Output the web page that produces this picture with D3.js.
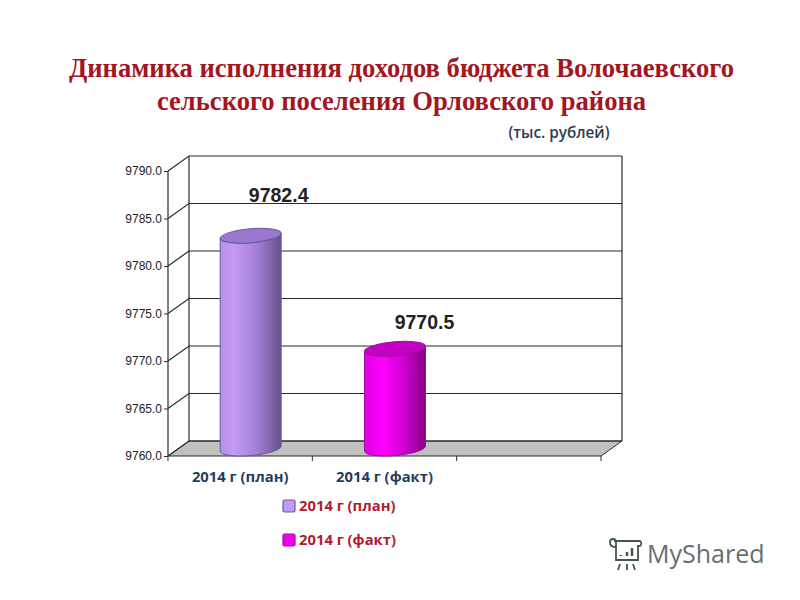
<!DOCTYPE html>
<html><head><meta charset="utf-8">
<script src="https://cdn.jsdelivr.net/npm/d3@7"></script>
<style>html,body{margin:0;padding:0;background:#fff}svg{display:block}</style></head>
<body><svg id="c" width="800" height="600"></svg>
<script>
const titleLines = ["Динамика исполнения доходов бюджета Волочаевского", "сельского поселения Орловского района"];
const unitLabel = "(тыс. рублей)";
const categories = ["2014 г (план)", "2014 г (факт)", ""];
const values = [9782.4, 9770.5];
const tickValues = [9760, 9765, 9770, 9775, 9780, 9785, 9790];
const watermark = "MyShared";

const svg = d3.select("#c");
const depthX = 21, depthY = -15;
const y = d3.scaleLinear().domain([9760, 9790]).range([456, 171]);
const x = d3.scaleBand().domain(categories).range([168, 601]);
const ink = "#2b2b2b";

const defs = svg.append("defs");
function grad(id, stops){
  const g = defs.append("linearGradient").attr("id", id);
  stops.forEach(s => g.append("stop").attr("offset", s[0]).attr("stop-color", s[1]));
}
grad("g0", [[0,"#b78fe6"],[0.22,"#c39bf5"],[0.6,"#a47fd6"],[1,"#67508f"]]);
grad("g1", [[0,"#e000e0"],[0.3,"#ff00ff"],[0.65,"#cf00cf"],[1,"#860086"]]);
const seriesFill = ["url(#g0)", "url(#g1)"];
const topFill = ["#9a78cf", "#c400c4"];
const stroke = ["#6a5a9c", "#9a109a"];
const legendFill = ["#c09cf2", "#f000f0"];

svg.append("g").selectAll("text").data(titleLines).join("text")
  .attr("x", 401.5).attr("y", (d, i) => 77 + i * 33)
  .attr("text-anchor", "middle")
  .attr("font-family", "Liberation Serif").attr("font-weight", "bold").attr("font-size", 26.6)
  .attr("fill", "#a3161f").text(d => d);

svg.append("text").attr("x", 559).attr("y", 138).attr("text-anchor", "middle")
  .attr("font-family", "Open Sans").attr("font-weight", 600).attr("font-size", 15.3)
  .attr("fill", "#2c3e50").text(unitLabel);

// floor
const x0 = x.range()[0], x1 = x.range()[1], yb = y(9760);
svg.append("path").attr("fill", "#c0c0c0").attr("stroke", ink)
  .attr("d", d3.line()([[x0, yb], [x0 + depthX, yb + depthY], [x1 + depthX, yb + depthY], [x1, yb]]));

// gridlines: wall and side
const grid = svg.append("g").attr("fill", "none").attr("stroke", ink).attr("stroke-width", 1.2);
tickValues.forEach(v => {
  const p = y(v);
  grid.append("path").attr("d", d3.line()([[x0, p], [x0 + depthX, p + depthY], [x1 + depthX, p + depthY]]));
});
grid.append("path").attr("d", d3.line()([[x0 + depthX, y(9790) + depthY], [x0 + depthX, yb + depthY]]));
grid.append("path").attr("d", d3.line()([[x1 + depthX, y(9790) + depthY], [x1 + depthX, yb + depthY]]));
grid.append("path").attr("d", d3.line()([[x0, y(9790)], [x0, yb]]));
grid.append("path").attr("d", d3.line()([[x0, yb], [x1, yb]]));

// axes
const yAxis = svg.append("g").attr("transform", `translate(${x0},0)`)
  .call(d3.axisLeft(y).tickValues(tickValues).tickFormat(d3.format(".1f")).tickSize(4).tickPadding(2));
yAxis.select(".domain").remove();
yAxis.selectAll("line").attr("stroke", ink);
yAxis.selectAll("text").attr("font-family", "Liberation Sans").attr("font-size", 12).attr("fill", "#222");

const xAxis = svg.append("g").attr("transform", `translate(0,${yb})`)
  .call(d3.axisBottom(x).tickSize(0).tickPadding(15));
xAxis.select(".domain").remove();
xAxis.selectAll("line").remove();
xAxis.selectAll("text").attr("font-family", "Open Sans").attr("font-weight", 700).attr("font-size", 14.8).attr("fill", "#1f3f60");
categories.forEach(c => {
  const px = x(c) + x.bandwidth();
  svg.append("line").attr("x1", px).attr("x2", px).attr("y1", yb).attr("y2", yb + 5).attr("stroke", ink);
});
svg.append("line").attr("x1", x0).attr("x2", x0).attr("y1", yb).attr("y2", yb + 5).attr("stroke", ink);

// cylinders
const rx = 30.5, ry = 7, tilt = -5, lean = 2.6;
const labelShiftX = [28, 29.5], labelShiftY = [-34, -20];
const bars = svg.append("g");
values.forEach((v, i) => {
  const cx = x(categories[i]) + x.bandwidth() / 2 + depthX / 2;
  const topY = y(v) + depthY / 2, botY = yb + depthY / 2;
  const L = cx - rx, R = cx + rx;
  bars.append("path").attr("fill", seriesFill[i]).attr("stroke", stroke[i]).attr("stroke-width", 1)
    .attr("d", `M${L},${topY + lean} L${L},${botY + lean} A${rx},${ry} ${tilt} 0 0 ${R},${botY - lean} L${R},${topY - lean} A${rx},${ry} ${tilt} 0 1 ${L},${topY + lean} Z`);
  bars.append("ellipse").attr("cx", cx).attr("cy", topY).attr("rx", rx).attr("ry", ry)
    .attr("transform", `rotate(${tilt} ${cx} ${topY})`)
    .attr("fill", topFill[i]).attr("stroke", stroke[i]);
  svg.append("text").attr("x", cx + labelShiftX[i]).attr("y", topY + labelShiftY[i])
    .attr("text-anchor", "middle").attr("font-family", "Liberation Sans").attr("font-weight", "bold")
    .attr("font-size", 19.5).attr("fill", "#222").text(d3.format(".1f")(v));
});

// legend
const legendRows = [506, 540];
values.forEach((v, i) => {
  svg.append("rect").attr("x", 283).attr("y", legendRows[i] - 6).attr("width", 12).attr("height", 12).attr("rx", 1.5)
    .attr("fill", legendFill[i]).attr("stroke", stroke[i]).attr("stroke-width", 1.2);
  svg.append("text").attr("x", 299).attr("y", legendRows[i] + 5)
    .attr("font-family", "Open Sans").attr("font-weight", 700).attr("font-size", 14.8).attr("fill", "#b01c2e").text(categories[i]);
});

// watermark
const wm = svg.append("g").attr("fill", "none").attr("stroke", "#46554f").attr("stroke-width", 1.8);
wm.append("path").attr("d", "M614,541 h26 a3,3 0 0 1 0,5 h-2 v14 h-22 v-18 a3,3 0 0 0 -6,0 c0,4 2,5 5,5");
wm.append("path").attr("d", "M621,556 v-1 M627,556 v-4 M632,556 v-8").attr("stroke-width", 2.5);
wm.append("path").attr("d", "M620,564 l-2,6 M627,564 v6 M633,564 l2,6");
svg.append("text").attr("x", 647).attr("y", 563).attr("font-family", "Open Sans").attr("font-size", 25)
  .attr("fill", "#66706c").text(watermark);
</script></body></html>
